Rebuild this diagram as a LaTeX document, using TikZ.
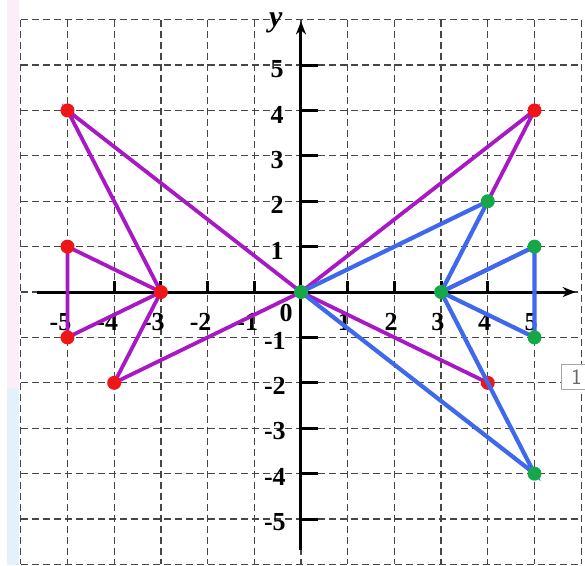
\documentclass[tikz,border=0pt]{standalone}
\usepackage{fontspec}
\setmainfont{Liberation Serif}
\usetikzlibrary{arrows.meta}
\definecolor{magc}{RGB}{168,24,196}
\definecolor{bluc}{RGB}{62,104,238}
\definecolor{redc}{RGB}{238,22,22}
\definecolor{grnc}{RGB}{22,168,72}
\definecolor{gridc}{RGB}{70,70,70}
\definecolor{pinkc}{RGB}{252,238,248}
\definecolor{lbluc}{RGB}{226,241,250}
\begin{document}
\begin{tikzpicture}[x=46.7pt,y=45.4pt,
  gridline/.style={draw=gridc,line width=1.3pt,dash pattern=on 7pt off 4pt},
  axisline/.style={line width=3pt,-{Stealth[length=13pt,width=10pt]}},
  tickline/.style={line width=3pt},
  lbl/.style={font=\fontsize{26}{28}\selectfont\bfseries,inner sep=0pt},
  mag/.style={draw=magc,line width=3.8pt,line cap=round},
  blu/.style={draw=bluc,line width=4.2pt,line cap=round},
  rdot/.style={fill=redc},
  gdot/.style={fill=grnc}]
\useasboundingbox (-6.445,-6.013) rectangle (6.081,6.432);
% faint side strips
\fill[pinkc] (-6.295,-2.11) rectangle (-6.04,6.432);
\fill[lbluc] (-6.295,-6.013) rectangle (-6.04,-2.11);
% grid
\foreach \n in {-6,...,6}{
  \draw[gridline] (\n,6) -- (\n,-6);
  \draw[gridline] (-6,\n) -- (6,\n);
}
% axes
\coordinate (xs) at (-5.65,0);
\coordinate (xe) at (5.88,0);
\coordinate (ys) at (0,-5.68);
\coordinate (ye) at (0,5.96);
\draw[axisline] (xs) -- (xe);
\draw[axisline] (ys) -- (ye);
\foreach \n in {-5,-4,-3,-2,-1,1,2,3,4,5}{
  \draw[tickline] (\n,0) -- (\n,0.25);
  \draw[tickline] (0,\n) -- (0.36,\n);
}
% labels
\foreach \n in {-5,-4,-3,-2,-1}{
  \node[lbl] (xl\n) at (\n-0.15,-0.66) {-\the\numexpr-\n\relax};
  \node[lbl] (yl\n) at (-0.56,\n-0.07) {-\the\numexpr-\n\relax};
}
\foreach \n in {1,2,3,4,5}{
  \node[lbl] (xl\n) at (\n-0.07,-0.66) {\n};
  \node[lbl] (yl\n) at (-0.51,\n-0.09) {\n};
}
\node[lbl] (o) at (-0.32,-0.46) {0};
\node[font=\fontsize{30}{32}\selectfont\bfseries\itshape,inner sep=0pt] (ylab) at (-0.54,5.93) {y};
% side box
\coordinate (b1) at (5.567,-1.6);
\coordinate (b2) at (6.3,-2.14);
\filldraw[draw=black!35,fill=white,line width=0.8pt] (b1) rectangle (b2);
\node[font=\fontsize{22}{24}\selectfont\sffamily,text=black!60,inner sep=0pt] (box) at (5.9,-1.87) {1};
% points
\coordinate (O) at (0,0);
\coordinate (A) at (-5,4);
\coordinate (B) at (-5,1);
\coordinate (C) at (-3,0);
\coordinate (D) at (-5,-1);
\coordinate (E) at (-4,-2);
\coordinate (F) at (5,4);
\coordinate (G) at (4,-2);
\coordinate (P) at (4,2);
\coordinate (Q) at (3,0);
\coordinate (R) at (5,1);
\coordinate (S) at (5,-1);
\coordinate (T) at (5,-4);
% magenta figure
\draw[mag] (O) -- (A) -- (C) -- (E) -- (O);
\draw[mag] (B) -- (C) -- (D) -- cycle;
\draw[mag] (O) -- (F) -- (P);
\draw[mag] (O) -- (G);
\draw[mag] (Q) -- (R);
\foreach \p in {A,B,C,D,E,F,G} \fill[rdot] (\p) circle (7pt);
% blue figure
\draw[blu] (O) -- (P) -- (Q) -- (T) -- (O);
\draw[blu] (Q) -- (R) -- (S) -- cycle;
\foreach \p in {O,P,Q,R,S,T} \fill[gdot] (\p) circle (7pt);
\end{tikzpicture}
\end{document}
